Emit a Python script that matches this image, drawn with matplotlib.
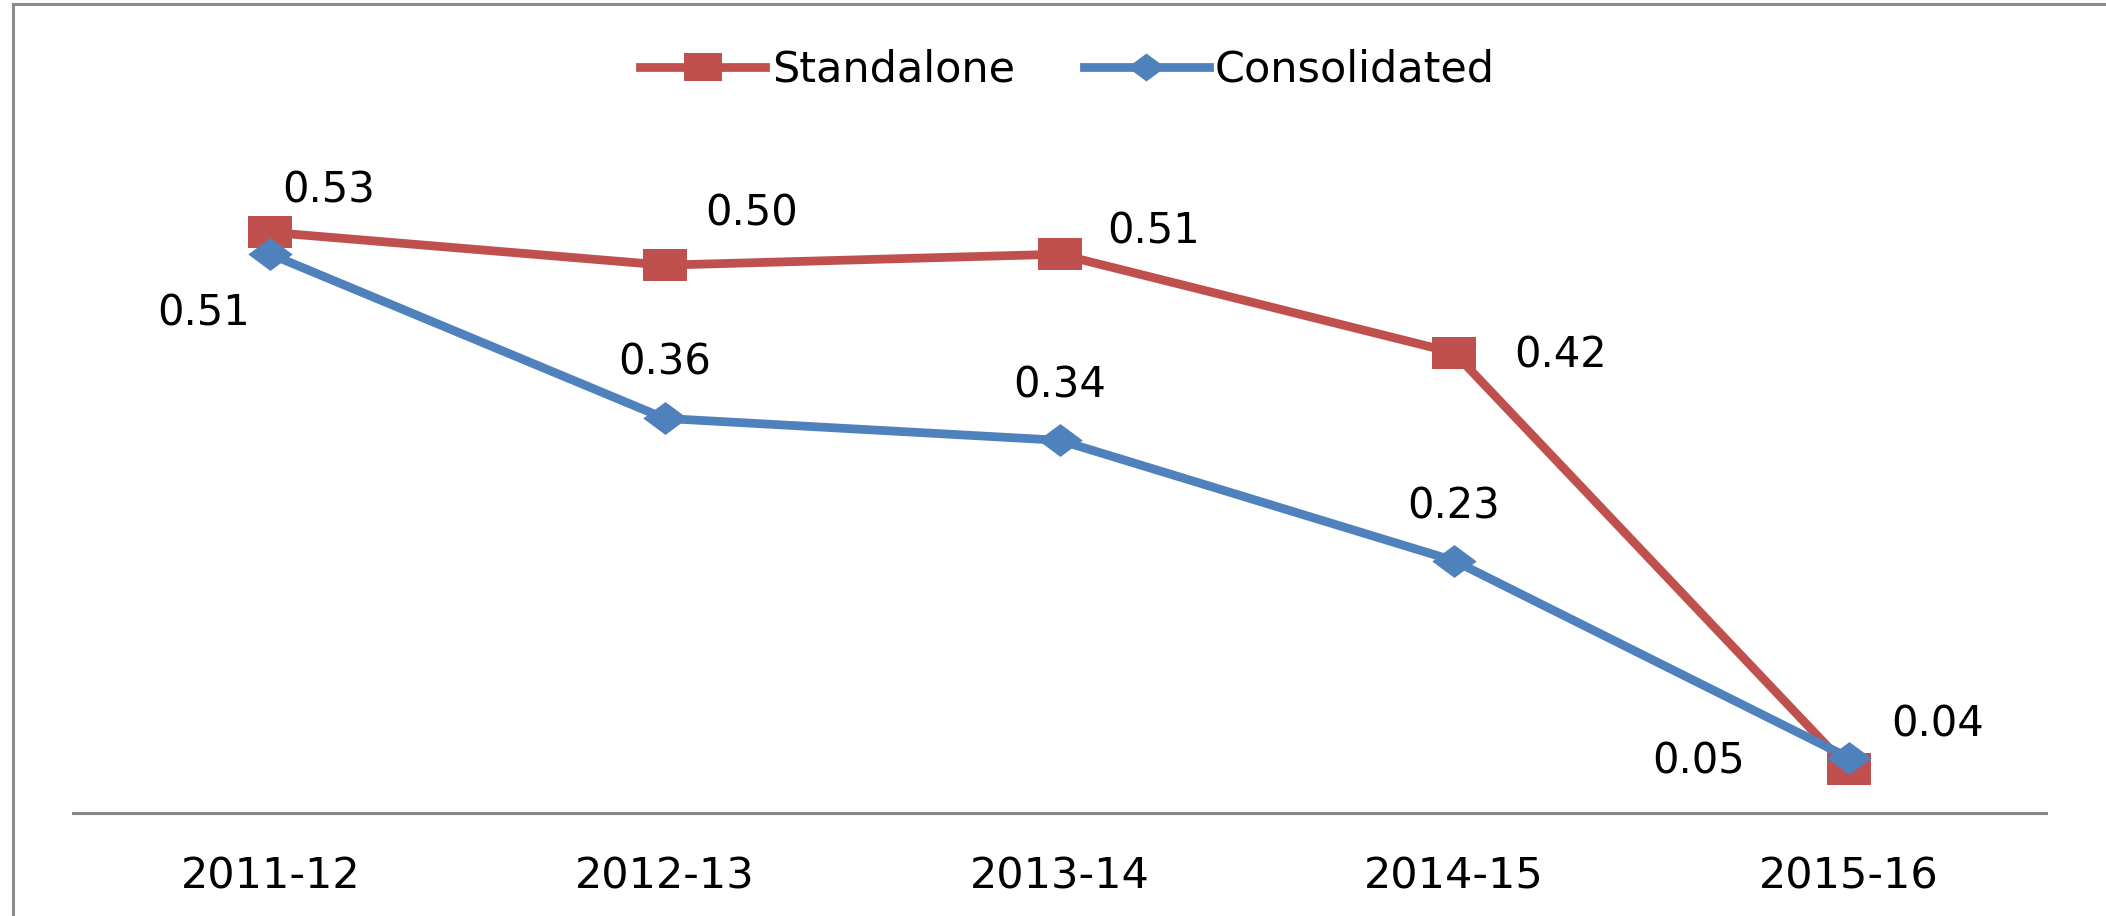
import numpy as np
import matplotlib
matplotlib.use('Agg')
import matplotlib.pyplot as plt
from matplotlib.path import Path
from matplotlib.lines import Line2D

# Data
years = ['2011-12', '2012-13', '2013-14', '2014-15', '2015-16']
standalone = [0.53, 0.50, 0.51, 0.42, 0.04]
consolidated = [0.51, 0.36, 0.34, 0.23, 0.05]

# label offsets in pixels (dx right, dy down)
standalone_off = [(58, -42), (87, -52), (94, -23), (106, 3), (89, -44)]
consolidated_off = [(-67, 59), (0, -56), (0, -55), (0, -54), (-150, 4)]

RED = '#C0504D'
BLUE = '#4F81BD'
W, H = 2106, 916

# the original is stretched sideways, so markers are wider than tall
square = Path([(-1, -0.74), (1, -0.74), (1, 0.74), (-1, 0.74), (-1, -0.74)],
              [Path.MOVETO, Path.LINETO, Path.LINETO, Path.LINETO, Path.CLOSEPOLY])
diamond = Path([(-1, 0), (0, 0.74), (1, 0), (0, -0.74), (-1, 0)],
               [Path.MOVETO, Path.LINETO, Path.LINETO, Path.LINETO, Path.CLOSEPOLY])

fig = plt.figure(figsize=(W / 100, H / 100), dpi=100)
fig.patch.set_facecolor('white')

# outer chart border (left and top visible only)
fig.add_artist(Line2D([13 / W, 13 / W], [0, 1 - 4 / H], color='#8C8C8C', lw=2.2,
                      transform=fig.transFigure))
fig.add_artist(Line2D([13 / W, 1], [1 - 4 / H, 1 - 4 / H], color='#8C8C8C', lw=2.2,
                      transform=fig.transFigure))

ax = fig.add_axes([73 / W, (H - 812.5) / H, (2046 - 73) / W, (812.5 - 155.7) / H])
x = np.arange(len(years))

ax.plot(x, standalone, color=RED, lw=6.3, marker=square, markersize=32,
        markeredgewidth=0, label='Standalone', clip_on=False, zorder=3)
ax.plot(x, consolidated, color=BLUE, lw=6.3, marker=diamond, markersize=32,
        markeredgewidth=0, label='Consolidated', clip_on=False, zorder=4)

for i, v in enumerate(standalone):
    dx, dy = standalone_off[i]
    ax.annotate(f'{v:.2f}', (x[i], v), xytext=(dx, -dy), textcoords='offset pixels',
                ha='center', va='center', fontsize=30, color='black')
for i, v in enumerate(consolidated):
    dx, dy = consolidated_off[i]
    ax.annotate(f'{v:.2f}', (x[i], v), xytext=(dx, -dy), textcoords='offset pixels',
                ha='center', va='center', fontsize=30, color='black')

ax.set_xlim(-0.5, 4.5)
ax.set_ylim(0, 0.6)
for s in ['top', 'left', 'right']:
    ax.spines[s].set_visible(False)
ax.spines['bottom'].set_color('#868686')
ax.spines['bottom'].set_linewidth(2.2)
ax.set_yticks([])
ax.set_xticks(x)
ax.set_xticklabels(years)
ax.tick_params(axis='x', length=0, pad=31, labelsize=31)

fig.legend(loc='center', bbox_to_anchor=(0.507, 1 - 70 / H), ncol=2, frameon=False,
           fontsize=31, handlelength=2.9, handletextpad=0.15, columnspacing=1.6,
           markerscale=0.85)

fig.savefig('out.png', dpi=100)
